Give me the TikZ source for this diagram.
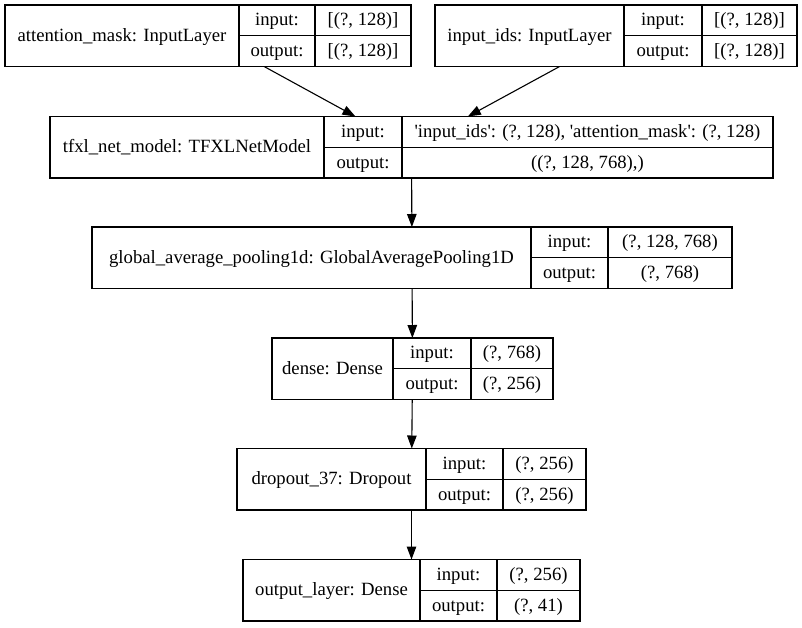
\documentclass[tikz,border=0pt]{standalone}
\usepackage{fontspec}
\setmainfont{Liberation Serif}
\usetikzlibrary{arrows.meta}
\tikzset{
  boxframe/.style={draw=black, line width=1.1pt, inner sep=0pt, outer sep=0pt, minimum height=61.5pt, fill=none},
  boxline/.style={draw=black, line width=1.1pt},
  lbl/.style={inner sep=0pt, text height=15pt, text depth=4pt, font=\fontsize{18.7}{22}\selectfont},
  edge/.style={draw=black, line width=1.1pt, -{Triangle[length=13pt,width=9.5pt]}}
}
% #1 name, #2 x1, #3 x2, #4 y1, #5 d1, #6 d2, #7 title, #8 in, #9 out
\newcommand\layerbox[9]{%
  \node[boxframe, minimum width={#3pt-#2pt}, anchor=north west] (#1) at (#2,#4) {};
  \draw[boxline] (#5,#4) -- ++(0,61.5);
  \draw[boxline] (#6,#4) -- ++(0,61.5);
  \draw[boxline] ({#5},{#4+30.75}) -- ({#3},{#4+30.75});
  \node[lbl] (#1-t) at ({(#2+#5)/2},{#4+30.75}) {#7};
  \node[lbl] (#1-il) at ({(#5+#6)/2},{#4+15.4}) {input:};
  \node[lbl] (#1-ol) at ({(#5+#6)/2},{#4+46.1}) {output:};
  \node[lbl] (#1-iv) at ({(#6+#3)/2},{#4+15.4}) {#8};
  \node[lbl] (#1-ov) at ({(#6+#3)/2},{#4+46.1}) {#9};
}
\begin{document}
\begin{tikzpicture}[x=1pt,y=-1pt]
\useasboundingbox[fill=white] (0,0) rectangle (802,627);
\layerbox{am}{5}{411}{5}{239}{315}{attention\_mask: InputLayer}{[(?, 128)]}{[(?, 128)]}
\layerbox{ids}{435}{797}{5}{624}{702}{input\_ids: InputLayer}{[(?, 128)]}{[(?, 128)]}
\layerbox{tfxl}{50}{773}{116.5}{324}{402}{tfxl\_net\_model: TFXLNetModel}{\textquotesingle input\_ids\textquotesingle: (?, 128), \textquotesingle attention\_mask\textquotesingle: (?, 128)}{((?, 128, 768),)}
\layerbox{gap}{92}{732}{227}{531}{608}{global\_average\_pooling1d: GlobalAveragePooling1D}{(?, 128, 768)}{(?, 768)}
\layerbox{dense}{272}{553}{338}{393}{471}{dense: Dense}{(?, 768)}{(?, 256)}
\layerbox{drop}{237}{586}{448.5}{426}{503}{dropout\_37: Dropout}{(?, 256)}{(?, 256)}
\layerbox{outl}{243}{580}{559.5}{420}{497}{output\_layer: Dense}{(?, 256)}{(?, 41)}
\draw[edge] (am) -- (tfxl);
\draw[edge] (ids) -- (tfxl);
\draw[edge] (tfxl) -- (gap);
\draw[edge] (gap) -- (dense);
\draw[edge] (dense) -- (drop);
\draw[edge] (drop) -- (outl);
\end{tikzpicture}
\end{document}
